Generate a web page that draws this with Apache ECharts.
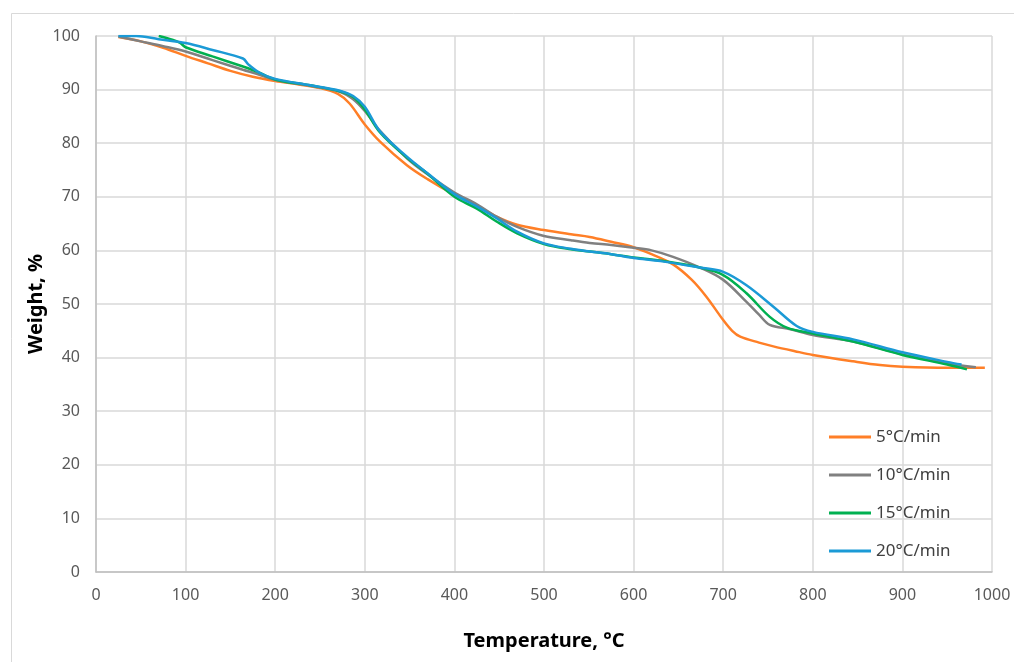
<!DOCTYPE html>
<html>
<head>
<meta charset="utf-8">
<script src="https://cdn.jsdelivr.net/npm/echarts@6/dist/echarts.min.js"></script>
<style>
  html, body { margin: 0; padding: 0; background: #fff; }
  #chart { width: 1014px; height: 662px; }
</style>
</head>
<body>
<div id="chart"></div>
<script>
// TGA curves, [temperature °C, weight %]
const seriesNames = ['5°C/min', '10°C/min', '15°C/min', '20°C/min']
const seriesColors = ['#ff7f27', '#808080', '#00b050', '#1b9ad6']

const rate5 = [
  [25, 99.8], [50, 99], [75, 97.8], [100, 96.3], [125, 94.9], [150, 93.5], [175, 92.4],
  [200, 91.6], [225, 91], [250, 90.3], [270, 89.2], [283, 87.4], [300, 83.5], [317, 80.3],
  [347, 75.9], [370, 73.3], [400, 70.4], [425, 68.4], [447, 66.3], [470, 64.8], [500, 63.8],
  [530, 63], [551, 62.5], [575, 61.6], [600, 60.6], [620, 59.3], [644, 57.4], [665, 54.5],
  [681, 51.4], [700, 47], [710, 45], [719, 43.9], [740, 42.8], [756, 42.1], [780, 41.2],
  [800, 40.5], [845, 39.3], [875, 38.6], [900, 38.3], [950, 38.1], [992, 38.1]
]
const rate10 = [
  [25, 99.9], [50, 99], [75, 98.1], [100, 97.1], [130, 95.5], [164, 93.7], [180, 92.9],
  [200, 91.8], [239, 90.7], [272, 89.6], [287, 88.2], [300, 86], [317, 82.3], [347, 77.2],
  [370, 74.2], [400, 70.8], [425, 68.6], [447, 66.3], [470, 64.4], [500, 62.7], [530, 61.9],
  [551, 61.4], [575, 61], [600, 60.5], [620, 60], [644, 58.8], [674, 56.8], [700, 54.5],
  [726, 50.4], [740, 48], [752, 46.1], [775, 45.3], [800, 44.2], [845, 43], [900, 40.6],
  [950, 38.9], [982, 38.2]
]
const rate15 = [
  [70, 100], [85, 99.3], [94, 98.7], [100, 97.9], [130, 96.2], [164, 94.3], [179, 93.4],
  [200, 91.9], [239, 90.8], [272, 89.7], [287, 88.6], [300, 86.3], [317, 82], [347, 77.3],
  [370, 74.3], [400, 70], [425, 67.8], [447, 65.4], [470, 63.2], [500, 61.2], [530, 60.2],
  [551, 59.8], [575, 59.3], [600, 58.7], [630, 58.1], [674, 56.8], [700, 55.4], [726, 52],
  [752, 47.6], [771, 45.6], [800, 44.5], [845, 43], [900, 40.5], [950, 38.7], [972, 37.8]
]
const rate20 = [
  [25, 100], [45, 100], [70, 99.4], [100, 98.7], [130, 97.4], [164, 95.8], [170, 94.7],
  [183, 93.1], [200, 92], [239, 90.8], [272, 89.8], [287, 88.8], [300, 86.8], [317, 82.2],
  [347, 77.5], [370, 74.4], [400, 70.5], [425, 68.2], [447, 66], [470, 63.5], [500, 61.3],
  [530, 60.3], [551, 59.8], [575, 59.3], [600, 58.6], [630, 58], [674, 56.8], [700, 56],
  [726, 53.5], [756, 49.5], [782, 45.9], [800, 44.8], [845, 43.4], [900, 41], [950, 39.2],
  [966, 38.7]
]
const allSeries = [rate5, rate10, rate15, rate20]

const font = 'Noto Sans'
const chart = echarts.init(document.getElementById('chart'))

chart.setOption({
  animation: false,
  backgroundColor: '#fff',
  textStyle: { fontFamily: font },
  graphic: [{
    type: 'rect',
    shape: { x: 11.5, y: 13.5, width: 1010, height: 700 },
    style: { fill: 'none', stroke: '#d9d9d9', lineWidth: 1 },
    silent: true
  }],
  grid: { left: 96, top: 36, right: 22, bottom: 90 },
  legend: {
    orient: 'vertical',
    left: 824,
    top: 423,
    icon: 'rect',
    itemWidth: 42,
    itemHeight: 3,
    itemGap: 20,
    textStyle: { fontFamily: font, fontSize: 17, lineHeight: 18, color: '#404040' },
    data: seriesNames
  },
  xAxis: {
    type: 'value',
    min: 0,
    max: 1000,
    interval: 100,
    name: 'Temperature, °C',
    nameLocation: 'middle',
    nameGap: 59,
    nameMoveOverlap: false,
    nameTextStyle: { fontFamily: font, fontSize: 20, fontWeight: 'bold', color: '#000' },
    axisLine: { show: true, lineStyle: { color: '#bfbfbf', width: 1.5 } },
    axisTick: { show: false },
    axisLabel: { fontFamily: font, fontSize: 16, color: '#595959', margin: 15, formatter: v => String(v) },
    splitLine: { show: true, lineStyle: { color: '#d9d9d9', width: 1.5 } }
  },
  yAxis: {
    type: 'value',
    min: 0,
    max: 100,
    interval: 10,
    name: 'Weight, %',
    nameLocation: 'middle',
    nameGap: 50,
    nameMoveOverlap: false,
    nameTextStyle: { fontFamily: font, fontSize: 20, fontWeight: 'bold', color: '#000' },
    axisLine: { show: true, lineStyle: { color: '#bfbfbf', width: 1.5 } },
    axisTick: { show: false },
    axisLabel: { fontFamily: font, fontSize: 16, color: '#595959', margin: 16 },
    splitLine: { show: true, lineStyle: { color: '#d9d9d9', width: 1.5 } }
  },
  series: allSeries.map((data, i) => ({
    name: seriesNames[i],
    type: 'line',
    data,
    smooth: 0.35,
    symbol: 'none',
    color: seriesColors[i],
    lineStyle: { width: 2.5, color: seriesColors[i] }
  }))
})
</script>
</body>
</html>
